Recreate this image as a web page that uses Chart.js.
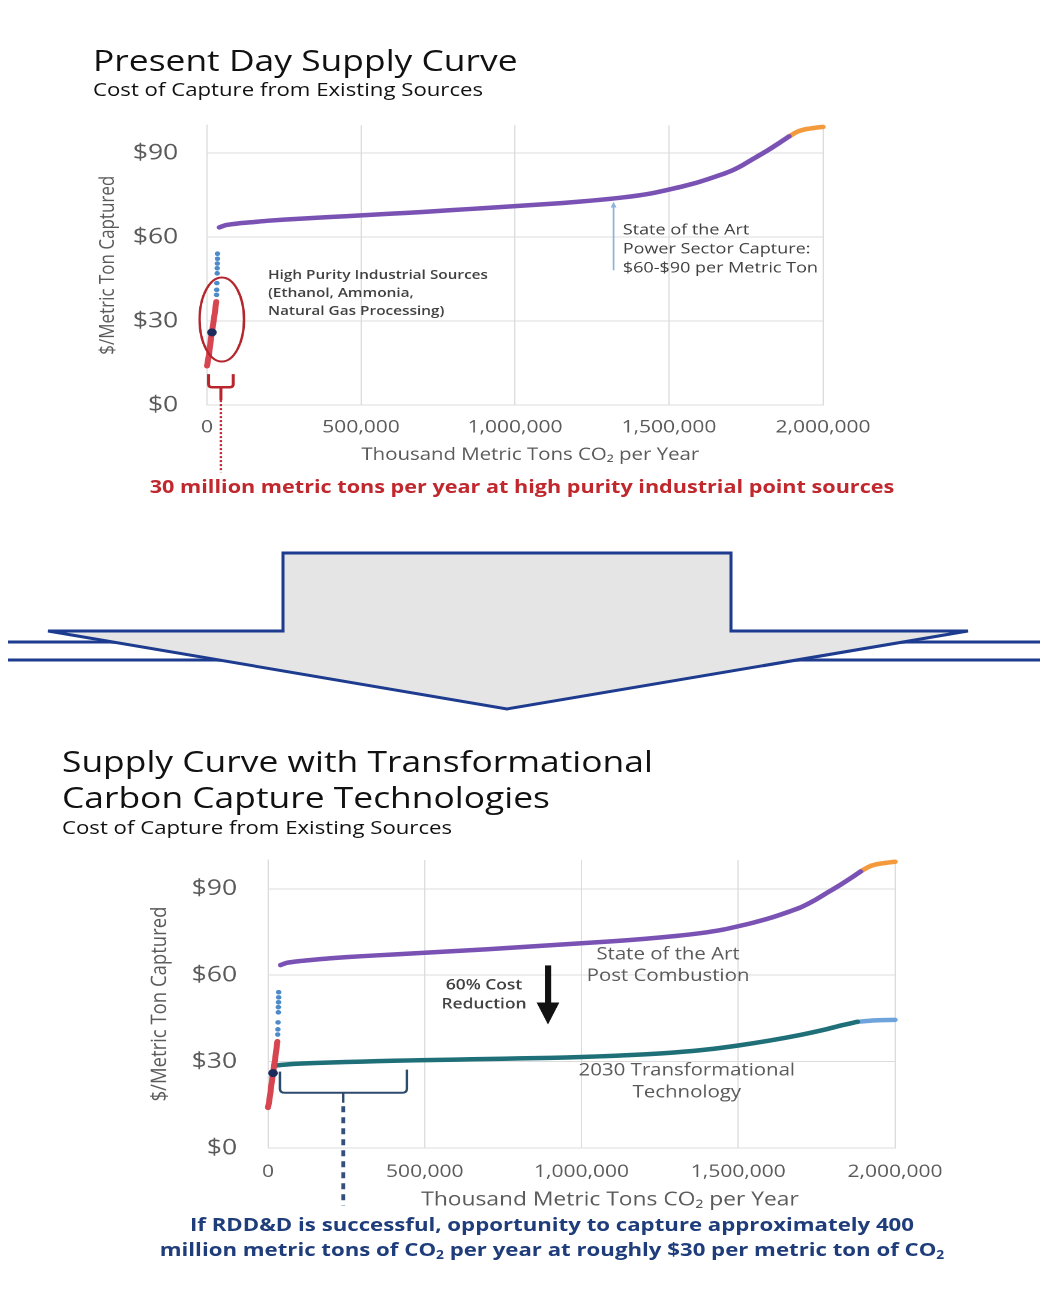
<!DOCTYPE html>
<html lang="en">
<head>
<meta charset="utf-8">
<title>Carbon Capture Supply Curves</title>
<script src="https://cdn.jsdelivr.net/npm/chart.js@4.4.1/dist/chart.umd.min.js"></script>
<style>
  html, body { margin: 0; padding: 0; background: #ffffff; }
  body { width: 1040px; height: 1292px; position: relative; overflow: hidden; font-family: "Open Sans", sans-serif; }
  #flow { position: absolute; left: 0; top: 540px; }
  /* the figure is set on a stage that is widened horizontally by STRETCH */
  #stage { position: absolute; left: 0; top: 0; width: 867px; height: 1292px; transform: scaleX(1.2); transform-origin: 0 0; }
  #stage canvas { position: absolute; }
  .txt { position: absolute; white-space: nowrap; line-height: 1; }
  .sub { font-size: 0.62em; position: relative; top: 0.28em; }
</style>
</head>
<body>

<svg id="flow" width="1040" height="190" viewBox="0 0 1040 190">
  <line x1="8" y1="102" x2="1040" y2="102" stroke="#1d3b8f" stroke-width="3"/>
  <line x1="8" y1="120" x2="1040" y2="120" stroke="#1d3b8f" stroke-width="3"/>
  <polygon points="283,13 731,13 731,91 968,91 507,169 48,91 283,91"
           fill="#e5e5e5" stroke="#1d3b8f" stroke-width="3" stroke-linejoin="miter"/>
</svg>

<div id="stage">
  <canvas id="present"></canvas>
  <canvas id="future"></canvas>
</div>

<script>
// ---- axes ----
const xTicks = [0, 500000, 1000000, 1500000, 2000000];   // thousand metric tons CO2 per year
const yTicks = [0, 30, 60, 90];                           // $ per metric ton captured

// ---- state of the art post combustion capture (cumulative supply, $/t) ----
const stateOfArtX = [40000, 60000, 100000, 150000, 200000, 300000, 400000, 500000, 600000, 700000,
                     800000, 900000, 1000000, 1100000, 1200000, 1300000, 1350000, 1400000, 1450000, 1500000,
                     1550000, 1600000, 1650000, 1700000, 1740000, 1780000, 1820000, 1860000, 1890000];
const stateOfArtY = [63.5, 64.3, 64.9, 65.4, 65.9, 66.6, 67.2, 67.8, 68.4, 69.0,
                     69.7, 70.4, 71.1, 71.8, 72.6, 73.6, 74.2, 74.9, 75.8, 77.0,
                     78.3, 79.8, 81.6, 83.6, 85.8, 88.4, 91.0, 93.8, 96.0];
const stateOfArtTailX = [1890000, 1915000, 1940000, 1970000, 2000000];
const stateOfArtTailY = [96.0, 97.6, 98.5, 99.0, 99.4];

// ---- 2030 transformational technology ----
const transformX = [29000, 60000, 100000, 200000, 300000, 400000, 500000, 600000, 700000, 800000, 900000,
                    1000000, 1100000, 1200000, 1300000, 1400000, 1500000, 1600000, 1700000, 1780000, 1830000, 1880000];
const transformY = [28.7, 29.0, 29.3, 29.7, 30.0, 30.3, 30.5, 30.7, 30.9, 31.1, 31.3,
                    31.6, 32.0, 32.5, 33.2, 34.2, 35.6, 37.3, 39.3, 41.2, 42.6, 43.8];
const transformTailX = [1880000, 1920000, 1960000, 2000000];
const transformTailY = [43.8, 44.2, 44.4, 44.5];

// ---- high purity industrial sources ----
const industrialX = [0, 4000, 8000, 12000, 16000, 20000, 24000, 27000, 30000];
const industrialY = [14, 16.5, 19.5, 23, 26, 29, 32, 34.5, 37];
const industrialHighX = [31000, 31500, 32000, 33000, 33000, 33500, 34000, 34000];
const industrialHighY = [39.4, 41.2, 43.6, 47.1, 48.9, 50.6, 52.3, 54.1];
const junctionX = [16000];
const junctionY = [26];

// ---- look ----
const STRETCH = 1.2;
const FONT = '"Open Sans", sans-serif';
const GRID = '#dcdcdc';
const AXIS_TEXT = '#5a5a5a';
const NOTE_TEXT = '#404040';
const Y_TICK_SIZE = 22;
const X_TITLE = 'Thousand Metric Tons CO\u2082 per Year';
const C = {
  purple: '#7a52b3', orange: '#f39a3d', teal: '#1f6f78', sky: '#6fa3dc',
  red: '#d64550', dots: '#4d8ac8', navy: '#1d2b5c',
  ring: '#b3262d', brace: '#2c4a6c', pointer: '#8db3da'
};

const pts = (xs, ys) => xs.map((x, i) => ({ x, y: ys[i] }));
const sx = px => px / STRETCH;

function lineSet(xs, ys, color, width) {
  return { data: pts(xs, ys), borderColor: color, borderWidth: width, pointRadius: 0,
           borderCapStyle: 'round', borderJoinStyle: 'round', tension: 0.2, clip: false };
}
function dotSet(xs, ys, color, r) {
  return { data: pts(xs, ys), showLine: false, pointRadius: r, pointBackgroundColor: color,
           pointBorderWidth: 0, clip: false };
}

function scales(o) {
  return {
    x: {
      type: 'linear', min: 0, max: 2000000,
      afterBuildTicks: s => { s.ticks = xTicks.map(v => ({ value: v })); },
      afterFit: s => { s.height = o.xAxisHeight; },
      grid: { color: GRID, drawTicks: false, lineWidth: 1 },
      border: { color: GRID },
      ticks: { padding: o.xTickPad, color: AXIS_TEXT, font: { family: FONT, size: 17.5 },
               maxRotation: 0, autoSkip: false, callback: v => Number(v).toLocaleString('en-US') },
      // leading en spaces set the title a little right of the plot centre
      title: { display: true, text: '\u2002'.repeat(o.xTitleIndent) + X_TITLE, color: AXIS_TEXT,
               font: { family: FONT, size: o.xTitleSize }, padding: { top: 0, bottom: o.xTitlePad } }
    },
    y: {
      type: 'linear', min: 0, max: 100,
      afterBuildTicks: s => { s.ticks = yTicks.map(v => ({ value: v })); },
      afterFit: s => { s.width = o.yAxisWidth; },
      grid: { color: GRID, drawTicks: false, lineWidth: 1 },
      border: { color: GRID },
      ticks: { padding: o.yTickPad, color: AXIS_TEXT, font: { family: FONT, size: Y_TICK_SIZE }, callback: v => '$' + v },
      title: { display: true, text: '$/Metric Ton Captured', color: AXIS_TEXT,
               font: { family: FONT, size: o.yTitleSize }, padding: { top: o.yTitlePad, bottom: 0 } }
    }
  };
}

// ---- drawing helpers for callouts ----
function text(ctx, str, x, y, font, color, align) {
  ctx.font = font; ctx.fillStyle = color; ctx.textAlign = align || 'left'; ctx.textBaseline = 'middle';
  ctx.fillText(str, x, y);
}
function brace(ctx, left, right, topL, topR, bottom, midX, tip, r) {
  ctx.beginPath();
  ctx.moveTo(left, topL);
  ctx.lineTo(left, bottom - r);
  ctx.quadraticCurveTo(left, bottom, left + r, bottom);
  ctx.lineTo(right - r, bottom);
  ctx.quadraticCurveTo(right, bottom, right, bottom - r);
  ctx.lineTo(right, topR);
  ctx.moveTo(midX, bottom);
  ctx.lineTo(midX, tip);
  ctx.stroke();
}

const presentNotes = {
  id: 'presentNotes',
  afterDatasetsDraw(chart) {
    const { ctx, scales: { x, y } } = chart;
    const X = v => x.getPixelForValue(v), Y = v => y.getPixelForValue(v);
    ctx.save();
    // ring round the industrial sources
    ctx.strokeStyle = C.ring; ctx.lineWidth = 2;
    ctx.beginPath(); ctx.ellipse(X(48000), Y(30.6), 18.5, 42, 0, 0, Math.PI * 2); ctx.stroke();
    // bracket and dotted leader down to the caption
    ctx.strokeStyle = '#b8262c'; ctx.lineWidth = 2.5; ctx.lineCap = 'butt';
    brace(ctx, X(5000), X(85000), Y(11.1), Y(11.1), Y(6.4), X(45000), Y(1.8), 3);
    ctx.lineWidth = 2; ctx.setLineDash([2, 2]);
    ctx.beginPath(); ctx.moveTo(X(45000), Y(1.8)); ctx.lineTo(X(45000), Y(-24)); ctx.stroke();
    ctx.setLineDash([]);
    // pointer at the power sector curve
    ctx.strokeStyle = C.pointer; ctx.fillStyle = C.pointer; ctx.lineWidth = 1.5;
    const px = X(1320000);
    ctx.beginPath(); ctx.moveTo(px, Y(48.2)); ctx.lineTo(px, Y(71.4)); ctx.stroke();
    ctx.beginPath(); ctx.moveTo(px, Y(72.6)); ctx.lineTo(px - 2.5, Y(70.6)); ctx.lineTo(px + 2.5, Y(70.6)); ctx.closePath(); ctx.fill();
    // callout texts
    const small = '600 12.8px ' + FONT;
    text(ctx, 'High Purity Industrial Sources', X(198000), Y(46.4), small, NOTE_TEXT);
    text(ctx, '(Ethanol, Ammonia,', X(198000), Y(40.0), small, NOTE_TEXT);
    text(ctx, 'Natural Gas Processing)', X(198000), Y(33.6), small, NOTE_TEXT);
    const mid = '500 15px ' + FONT;
    text(ctx, 'State of the Art', X(1350000), Y(62.5), mid, NOTE_TEXT);
    text(ctx, 'Power Sector Capture:', X(1350000), Y(55.7), mid, NOTE_TEXT);
    text(ctx, '$60-$90 per Metric Ton', X(1350000), Y(48.9), mid, NOTE_TEXT);
    ctx.restore();
  }
};

const futureNotes = {
  id: 'futureNotes',
  afterDatasetsDraw(chart) {
    const { ctx, scales: { x, y } } = chart;
    const X = v => x.getPixelForValue(v), Y = v => y.getPixelForValue(v);
    ctx.save();
    // bracket over the first ~400 million tonnes of the 2030 curve
    ctx.strokeStyle = C.brace; ctx.lineWidth = 2;
    brace(ctx, X(38000), X(443000), Y(26.5), Y(27.2), Y(19.2), X(240000), Y(15.7), 4);
    ctx.strokeStyle = '#34507a'; ctx.lineWidth = 3.2; ctx.setLineDash([6, 5]);
    ctx.beginPath(); ctx.moveTo(X(240000), Y(14.5)); ctx.lineTo(X(240000), Y(-20)); ctx.stroke();
    ctx.setLineDash([]);
    // cost reduction arrow
    const ax = X(893000);
    ctx.fillStyle = '#111111';
    ctx.fillRect(ax - 2.6, Y(63.4), 5.2, Y(50) - Y(63.4));
    ctx.beginPath(); ctx.moveTo(ax - 9.5, Y(50.5)); ctx.lineTo(ax + 9.5, Y(50.5)); ctx.lineTo(ax, Y(42.9)); ctx.closePath(); ctx.fill();
    // callout texts
    const bold = '600 14.5px ' + FONT;
    text(ctx, '60% Cost', X(689000), Y(56.4), bold, NOTE_TEXT, 'center');
    text(ctx, 'Reduction', X(689000), Y(49.8), bold, NOTE_TEXT, 'center');
    const big = '17px ' + FONT;
    text(ctx, 'State of the Art', X(1276000), Y(67.2), big, AXIS_TEXT, 'center');
    text(ctx, 'Post Combustion', X(1276000), Y(59.6), big, AXIS_TEXT, 'center');
    text(ctx, '2030 Transformational', X(1336000), Y(26.8), big, AXIS_TEXT, 'center');
    text(ctx, 'Technology', X(1336000), Y(19.2), big, AXIS_TEXT, 'center');
    ctx.restore();
  }
};

// area: plot rectangle in page pixels; the canvas is sized round it, leaving room
// for the space Chart.js reserves above the top tick label and right of the last x label
function makeChart(id, area, left, bottom, datasets, axisOpts, notes) {
  const topReserve = Y_TICK_SIZE * 1.2 / 2 + axisOpts.yTickPad;
  const rightPad = 62;
  const top = area.top - topReserve;
  const width = Math.round(sx(area.right) + rightPad - left);
  const cv = document.getElementById(id);
  cv.style.left = left + 'px'; cv.style.top = top + 'px';
  cv.width = width; cv.height = Math.round(bottom - top);
  axisOpts.yAxisWidth = sx(area.left) - left;
  axisOpts.xAxisHeight = (top + Math.round(bottom - top)) - area.bottom;
  return new Chart(cv, {
    type: 'line',
    data: { datasets },
    options: {
      responsive: false, animation: false, devicePixelRatio: 2, events: [],
      layout: { padding: { left: 0, top: 0, right: left + width - sx(area.right), bottom: 0 } },
      plugins: { legend: { display: false }, tooltip: { enabled: false }, title: { display: false } },
      scales: scales(axisOpts)
    },
    plugins: [notes]
  });
}

// Present day supply curve
makeChart('present', { left: 207, right: 823, top: 125, bottom: 405 }, 73, 475,
  [
    dotSet(junctionX, junctionY, C.navy, 4),
    dotSet(industrialHighX, industrialHighY, C.dots, 2.3),
    lineSet(industrialX, industrialY, C.red, 5),
    lineSet(stateOfArtX, stateOfArtY, C.purple, 4.5),
    lineSet(stateOfArtTailX, stateOfArtTailY, C.orange, 4.5)
  ],
  { xTickPad: 12, xTitleSize: 17, xTitlePad: 9.8, xTitleIndent: 3, yTickPad: 24, yTitleSize: 17, yTitlePad: 6.8 },
  presentNotes);

// Supply curve with transformational technologies
makeChart('future', { left: 268, right: 895, top: 860, bottom: 1148 }, 108, 1220,
  [
    dotSet(junctionX, junctionY, C.navy, 4),
    dotSet(industrialHighX, industrialHighY, C.dots, 2.3),
    lineSet(industrialX, industrialY, C.red, 5),
    lineSet(transformX, transformY, C.teal, 4.5),
    lineSet(transformTailX, transformTailY, C.sky, 4.5),
    lineSet(stateOfArtX, stateOfArtY, C.purple, 4.5),
    lineSet(stateOfArtTailX, stateOfArtTailY, C.orange, 4.5)
  ],
  { xTickPad: 13.5, xTitleSize: 19, xTitlePad: 8.6, xTitleIndent: 5, yTickPad: 25.8, yTitleSize: 18.5, yTitlePad: 14.2 },
  futureNotes);

// ---- headings and captions (x given in page pixels, y as text baseline) ----
const captions = [
  { html: 'Present Day Supply Curve', x: 93, base: 71, size: 29.5, color: '#111111' },
  { html: 'Cost of Capture from Existing Sources', x: 93, base: 96, size: 18.5, color: '#111111' },
  { html: '30 million metric tons per year at high purity industrial point sources', cx: 522, base: 493, size: 18, weight: 700, color: '#c0282e' },
  { html: 'Supply Curve with Transformational', x: 62, base: 772, size: 29.5, color: '#111111' },
  { html: 'Carbon Capture Technologies', x: 62, base: 808, size: 29.5, color: '#111111' },
  { html: 'Cost of Capture from Existing Sources', x: 62, base: 834, size: 18.5, color: '#111111' },
  { html: 'If RDD&amp;D is successful, opportunity to capture approximately 400', cx: 552, base: 1231, size: 18.5, weight: 700, color: '#1f3d7a' },
  { html: 'million metric tons of CO<span class="sub">2</span> per year at roughly $30 per metric ton of CO<span class="sub">2</span>', cx: 552, base: 1256, size: 18.5, weight: 700, color: '#1f3d7a' }
];
const stage = document.getElementById('stage');
captions.forEach(c => {
  const d = document.createElement('div');
  d.className = 'txt';
  d.innerHTML = c.html;
  d.style.fontSize = c.size + 'px';
  d.style.fontWeight = c.weight || 400;
  d.style.color = c.color;
  d.style.top = (c.base - 0.888 * c.size) + 'px';
  if (c.cx !== undefined) { d.style.left = sx(c.cx) + 'px'; d.style.transform = 'translateX(-50%)'; }
  else { d.style.left = sx(c.x) + 'px'; }
  stage.appendChild(d);
});
</script>
</body>
</html>
